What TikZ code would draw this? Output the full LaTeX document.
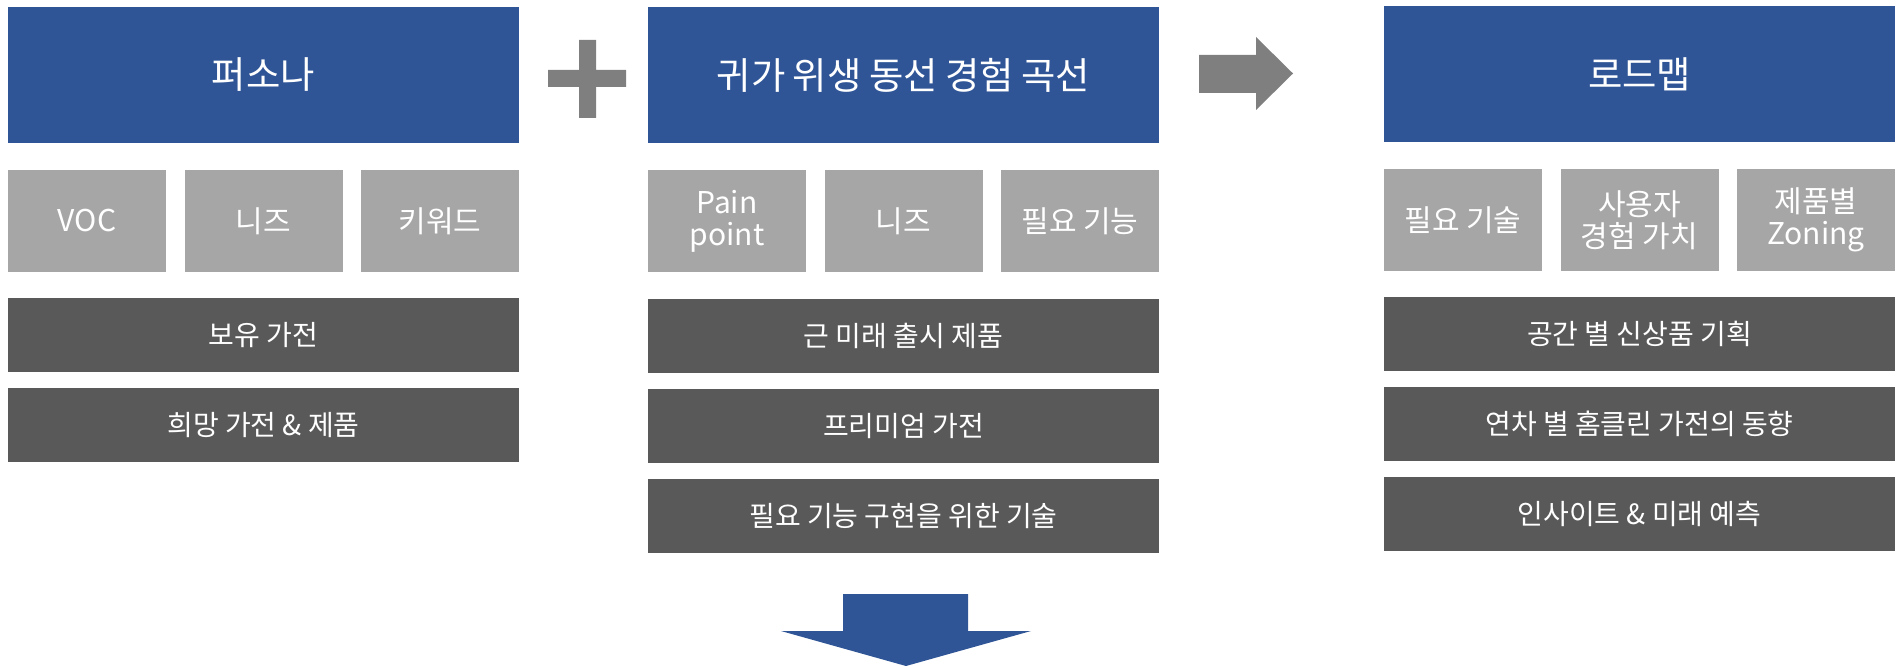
\documentclass[tikz,border=0pt]{standalone}
\usepackage{fontspec}
\setmainfont{Noto Sans CJK KR}
\definecolor{hdblue}{HTML}{2F5597}
\definecolor{lgray}{HTML}{A6A6A6}
\definecolor{dgray}{HTML}{595959}
\definecolor{mgray}{HTML}{7F7F7F}
\tikzset{
  base/.style={inner sep=0pt, outer sep=0pt, text=white, align=center},
  titlebox/.style={base, fill=hdblue, minimum width=383.25pt, minimum height=102pt, font=\fontsize{28}{32}\selectfont},
  tagbox/.style={base, fill=lgray, minimum width=118.5pt, minimum height=76.5pt, font=\fontsize{22.5}{24}\selectfont},
  rowbox/.style={base, fill=dgray, minimum width=383.25pt, minimum height=55.5pt, font=\fontsize{21}{24}\selectfont},
  symbol/.style={fill=mgray, draw=none},
  downarrow/.style={fill=hdblue, draw=none}
}
\begin{document}
\begin{tikzpicture}[x=0.75pt,y=-0.75pt]
\useasboundingbox (0,0) rectangle (1902,666);
% column left: x 8..519
\node[titlebox] (t1) at (263.5,75) {퍼소나};
\node[tagbox] (g11) at (87,221) {VOC};
\node[tagbox] (g12) at (263.5,221) {니즈};
\node[tagbox] (g13) at (440,221) {키워드};
\node[rowbox] (r11) at (263.5,335) {보유 가전};
\node[rowbox] (r12) at (263.5,425) {희망 가전 \& 제품};
% column middle: x 648..1159
\node[titlebox] (t2) at (903.5,75) {\spaceskip=0.2em 귀가 위생 동선 경험 곡선};
\node[tagbox] (g21) at (727,221) {Pain\\point};
\node[tagbox] (g22) at (903.5,221) {니즈};
\node[tagbox] (g23) at (1080,221) {필요 기능};
\node[rowbox] (r21) at (903.5,336) {근 미래 출시 제품};
\node[rowbox] (r22) at (903.5,426) {프리미엄 가전};
\node[rowbox] (r23) at (903.5,516) {필요 기능 구현을 위한 기술};
% column right: x 1384..1895
\node[titlebox] (t3) at (1639.5,74) {로드맵};
\node[tagbox] (g31) at (1463,220) {필요 기술};
\node[tagbox] (g32) at (1639.5,220) {사용자\\경험 가치};
\node[tagbox] (g33) at (1816,220) {제품별\\Zoning};
\node[rowbox] (r31) at (1639.5,334) {공간 별 신상품 기획};
\node[rowbox] (r32) at (1639.5,424) {연차 별 홈클린 가전의 동향};
\node[rowbox] (r33) at (1639.5,514) {인사이트 \& 미래 예측};
% plus sign
\fill[symbol] (579,40) -- (596,40) -- (596,70) -- (626,70) -- (626,87) -- (596,87)
  -- (596,118) -- (579,118) -- (579,87) -- (548,87) -- (548,70) -- (579,70) -- cycle;
% right arrow
\fill[symbol] (1199,55) -- (1256,55) -- (1256,37) -- (1293,73.5) -- (1256,110)
  -- (1256,93) -- (1199,93) -- cycle;
% down arrow
\fill[downarrow] (843,594) -- (968,594) -- (968,631) -- (1031,631) -- (906,666)
  -- (781,631) -- (843,631) -- cycle;
\end{tikzpicture}
\end{document}
